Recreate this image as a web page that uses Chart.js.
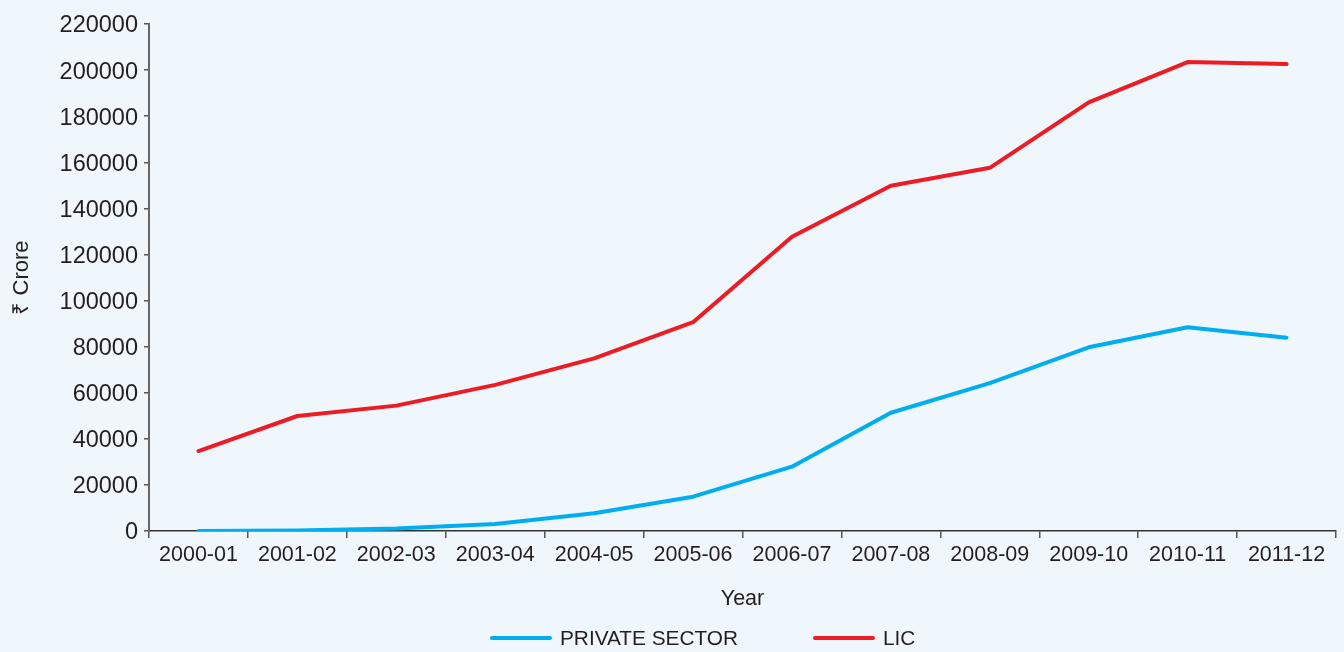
<!DOCTYPE html>
<html>
<head>
<meta charset="utf-8">
<script src="https://cdn.jsdelivr.net/npm/chart.js@4.4.0/dist/chart.umd.min.js"></script>
<style>
  html, body { margin: 0; padding: 0; background: #eff7fd; }
  #wrap { width: 1344px; height: 652px; }
</style>
</head>
<body>
<div id="wrap"><canvas id="chart" width="1344" height="652"></canvas></div>
<script>
// DATA
const years = ["2000-01","2001-02","2002-03","2003-04","2004-05","2005-06","2006-07","2007-08","2008-09","2009-10","2010-11","2011-12"];
const privateSector = [0, 250, 1100, 3000, 7700, 14900, 27900, 51300, 64200, 79700, 88400, 83900];
const lic = [34700, 49900, 54400, 63400, 74900, 90600, 127700, 149800, 157600, 186000, 203500, 202600];
const yTicks = { min: 0, max: 220000, step: 20000 };

const textColor = "#231f20";
const font = "'Liberation Sans', Arial, sans-serif";

// legend drawn by hand so the gap between items matches
const lineLegend = {
  id: "lineLegend",
  afterDraw(c) {
    const ctx = c.ctx;
    const y = 638;
    let x = 492;
    ctx.save();
    ctx.font = "20.8px " + font;
    ctx.textBaseline = "middle";
    c.data.datasets.forEach(ds => {
      ctx.strokeStyle = ds.borderColor;
      ctx.lineWidth = 4;
      ctx.lineCap = "round";
      ctx.beginPath();
      ctx.moveTo(x, y);
      ctx.lineTo(x + 58, y);
      ctx.stroke();
      ctx.fillStyle = textColor;
      ctx.fillText(ds.label, x + 68, y + 1);
      x += 68 + ctx.measureText(ds.label).width + 77;
    });
    ctx.restore();
  }
};

new Chart(document.getElementById("chart"), {
  type: "line",
  data: {
    labels: years,
    datasets: [
      { label: "PRIVATE SECTOR", data: privateSector, borderColor: "#00aeef", backgroundColor: "#00aeef",
        borderWidth: 4, pointRadius: 0, tension: 0, borderCapStyle: "round", borderJoinStyle: "round" },
      { label: "LIC", data: lic, borderColor: "#ed1c24", backgroundColor: "#ed1c24",
        borderWidth: 4, pointRadius: 0, tension: 0, borderCapStyle: "round", borderJoinStyle: "round" }
    ]
  },
  options: {
    responsive: false,
    animation: false,
    layout: { padding: { left: 9, right: 8, top: 24, bottom: 40 } },
    plugins: { legend: { display: false }, tooltip: { enabled: false } },
    scales: {
      x: {
        offset: true,
        grid: { offset: true, drawOnChartArea: false, tickLength: 7, color: "#555", lineWidth: 1.5 },
        border: { color: "#333", width: 1.5 },
        ticks: { color: textColor, font: { family: font, size: 21.5 }, padding: 4, maxRotation: 0, autoSkip: false },
        title: { display: true, text: "Year", color: textColor, font: { family: font, size: 21.5 }, padding: { top: 0, bottom: 0 } },
        afterFit: s => { s.height = 81; }
      },
      y: {
        min: yTicks.min,
        max: yTicks.max,
        grid: { drawOnChartArea: false, tickLength: 5, color: "#555", lineWidth: 1.5 },
        border: { color: "#666", width: 2 },
        ticks: { stepSize: yTicks.step, color: textColor, font: { family: font, size: 23.5 }, padding: 6, labelOffset: 2, callback: v => String(v) },
        title: { display: true, text: "₹ Crore", color: textColor, font: { family: font, size: 22 }, padding: { top: 0, bottom: 0 } },
        afterFit: s => { s.width = 140; }
      }
    }
  },
  plugins: [lineLegend]
});
</script>
</body>
</html>
